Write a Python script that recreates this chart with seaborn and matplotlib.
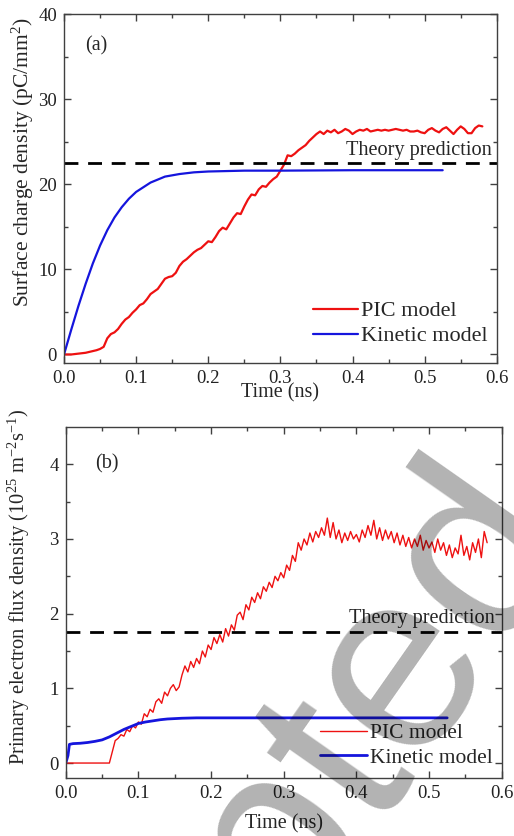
import numpy as np
import matplotlib.pyplot as plt
import seaborn as sns

# ---- panel (a): surface charge density ----
t_pic_a = np.round(np.arange(0, 0.5801, 0.005), 4)
q_pic_a = [0.0, 0.0, 0.0, 0.05, 0.1, 0.15, 0.2, 0.3, 0.4, 0.5,
           0.65, 0.9, 1.9, 2.4, 2.6, 3.0, 3.6, 4.1, 4.4, 4.9,
           5.3, 5.8, 6.0, 6.5, 7.1, 7.4, 7.7, 8.3, 8.9, 9.1,
           9.2, 9.6, 10.4, 10.9, 11.2, 11.6, 12.0, 12.3, 12.5, 12.9,
           13.3, 13.2, 13.8, 14.5, 14.9, 14.7, 15.4, 16.1, 16.6, 16.5,
           17.4, 18.2, 18.8, 18.7, 19.4, 19.8, 19.7, 20.2, 20.6, 20.9,
           21.6, 22.3, 23.4, 23.3, 23.6, 24.0, 24.3, 24.6, 25.1, 25.5,
           25.9, 26.2, 25.9, 26.3, 26.1, 26.4, 26.0, 26.2, 26.5, 26.3,
           25.9, 26.2, 26.4, 26.3, 26.5, 26.2, 26.3, 26.4, 26.3, 26.4,
           26.3, 26.4, 26.5, 26.4, 26.3, 26.4, 26.2, 26.2, 26.3, 26.1,
           26.0, 26.4, 26.6, 26.3, 26.1, 26.5, 26.7, 26.3, 25.9, 26.4,
           26.8, 26.5, 26.0, 26.0, 26.6, 26.9, 26.8]

t_kin_a = [0, 0.01, 0.02, 0.03, 0.04, 0.05, 0.06, 0.07, 0.08, 0.09,
           0.1, 0.12, 0.14, 0.16, 0.18, 0.2, 0.25, 0.3, 0.4, 0.525]
q_kin_a = [0, 2.9, 5.7, 8.3, 10.7, 12.8, 14.6, 16.1, 17.3, 18.3,
           19.1, 20.2, 20.9, 21.2, 21.4, 21.5, 21.6, 21.6, 21.65, 21.65]
theory_a = 22.5

# ---- panel (b): primary electron flux density ----
t_pic_b = np.round(np.arange(0, 0.5801, 0.004), 4)
f_pic_b = [0, 0, 0, 0, 0, 0, 0, 0, 0, 0,
           0, 0, 0, 0, 0, 0, 0.15, 0.30, 0.33, 0.38,
           0.36, 0.45, 0.42, 0.50, 0.47, 0.55, 0.52, 0.66, 0.62, 0.72,
           0.68, 0.82, 0.86, 0.80, 0.95, 0.90, 1.00, 1.05, 0.97, 1.02,
           1.18, 1.30, 1.22, 1.36, 1.28, 1.40, 1.33, 1.50, 1.42, 1.58,
           1.52, 1.68, 1.60, 1.72, 1.62, 1.80, 1.70, 1.85, 1.78, 1.98,
           2.02, 1.92, 2.12, 2.05, 2.22, 2.15, 2.28, 2.20, 2.36, 2.30,
           2.42, 2.35, 2.50, 2.44, 2.55, 2.48, 2.65, 2.58, 2.78, 2.70,
           2.95, 2.85, 3.00, 2.92, 3.08, 2.96, 3.10, 3.02, 3.15, 3.05,
           3.28, 3.02, 3.22, 3.00, 3.12, 2.95, 3.08, 2.98, 3.10, 3.00,
           3.06, 2.96, 3.12, 3.02, 3.18, 3.05, 3.25, 3.00, 3.15, 2.98,
           3.12, 3.00, 3.10, 2.95, 3.08, 2.92, 3.05, 2.90, 3.02, 2.88,
           3.00, 2.90, 3.05, 2.85, 2.98, 2.88, 2.96, 2.82, 3.00, 2.85,
           2.95, 2.78, 2.92, 2.75, 2.88, 2.80, 3.05, 2.78, 2.90, 2.72,
           2.95, 2.82, 3.00, 2.75, 3.10, 2.95]

t_kin_b = [0, 0.003, 0.005, 0.01, 0.02, 0.03, 0.04, 0.05, 0.06, 0.07,
           0.08, 0.09, 0.1, 0.11, 0.12, 0.13, 0.14, 0.15, 0.16, 0.18,
           0.2, 0.3, 0.4, 0.525]
f_kin_b = [0, 0.1, 0.25, 0.26, 0.265, 0.275, 0.29, 0.31, 0.35, 0.40,
           0.45, 0.49, 0.53, 0.55, 0.565, 0.58, 0.59, 0.595, 0.6, 0.605,
           0.605, 0.605, 0.605, 0.605]
theory_b = 1.75

sns.set_theme(style="ticks")
plt.rcParams['font.family'] = ['Liberation Serif', 'DejaVu Serif']
plt.rcParams['mathtext.fontset'] = 'custom'
plt.rcParams['mathtext.rm'] = 'Liberation Serif'
plt.rcParams['mathtext.it'] = 'Liberation Serif:italic'
plt.rcParams['axes.edgecolor'] = '#404040'
plt.rcParams['axes.linewidth'] = 1.0

fig = plt.figure(figsize=(5.14, 8.36), dpi=100)
ax1 = fig.add_axes([0.1245, 0.5658, 0.842, 0.4174])
ax2 = fig.add_axes([0.128, 0.0694, 0.848, 0.4199])


def style_axis(ax, ymajor, yminor):
    ax.set_xlim(0, 0.6)
    ax.set_xticks(np.arange(0, 0.61, 0.1))
    ax.set_xticks(np.arange(0.05, 0.6, 0.1), minor=True)
    ax.set_yticks(ymajor)
    ax.set_yticks(yminor, minor=True)
    ax.xaxis.set_major_formatter(plt.FormatStrFormatter('%.1f'))
    ax.tick_params(which='both', direction='in', top=True, right=True,
                   colors='#404040', labelcolor='#222222', labelsize=13.5)
    ax.tick_params(which='major', length=5, width=1, pad=5)
    ax.tick_params(which='minor', length=3, width=1)


# panel a
sns.lineplot(x=t_pic_a, y=q_pic_a, ax=ax1, color='#ee1111', lw=1.6, label='PIC model')
sns.lineplot(x=t_kin_a, y=q_kin_a, ax=ax1, color='#1515dd', lw=1.6, label='Kinetic model')
ax1.axhline(theory_a, color='black', lw=2, ls=(0, (5, 3.5)))
ax1.set_ylim(-1, 40)
style_axis(ax1, [0, 10, 20, 30, 40], [5, 15, 25, 35])
ax1.set_xlabel('Time (ns)', fontsize=14.5, labelpad=-3)
ax1.set_ylabel('Surface charge density (pC/mm$^2$)', fontsize=15.5)
ax1.yaxis.set_label_coords(-0.064, 0.576)
ax1.text(0.029, 36.3, '(a)', fontsize=14.5, va='center')
ax1.text(0.593, 24.0, 'Theory prediction', fontsize=14.6, ha='right', va='center')
ax1.legend(loc='lower right', bbox_to_anchor=(1.0, 0.022), frameon=False, fontsize=16,
           handlelength=2.0, handletextpad=0.15, labelspacing=0.2,
           borderpad=0.1, borderaxespad=0.3)

# panel b
sns.lineplot(x=t_pic_b, y=f_pic_b, ax=ax2, color='#ee1111', lw=1.0, label='PIC model')
sns.lineplot(x=t_kin_b, y=f_kin_b, ax=ax2, color='#1515dd', lw=2.0, label='Kinetic model')
ax2.axhline(theory_b, color='black', lw=2, ls=(0, (5, 3.5)))
ax2.set_ylim(-0.2, 4.5)
style_axis(ax2, [0, 1, 2, 3, 4], [0.5, 1.5, 2.5, 3.5])
ax2.set_xlabel('Time (ns)', fontsize=14.5, labelpad=9)
ax2.set_ylabel('Primary electron flux density (10$^{25}$ m$^{-2}$s$^{-1}$)', fontsize=14.8)
ax2.yaxis.set_label_coords(-0.078, 0.544)
ax2.text(0.04, 4.0, '(b)', fontsize=14.5, va='center')
ax2.text(0.590, 1.94, 'Theory prediction', fontsize=14.6, ha='right', va='center')
ax2.legend(loc='lower right', bbox_to_anchor=(1.0, 0.005), frameon=False, fontsize=15.5,
           handlelength=2.2, handletextpad=0.15, labelspacing=0.2,
           borderpad=0.1, borderaxespad=0.3)

# gray "Accepted" watermark running across the lower right
fig.text(582 / 514, 1 - 540 / 836, 'Accepted', fontsize=185, family='Liberation Sans',
         color='black', alpha=0.3, rotation=55, rotation_mode='anchor',
         ha='right', va='baseline', zorder=10)

fig.savefig('out.png', dpi=100)
